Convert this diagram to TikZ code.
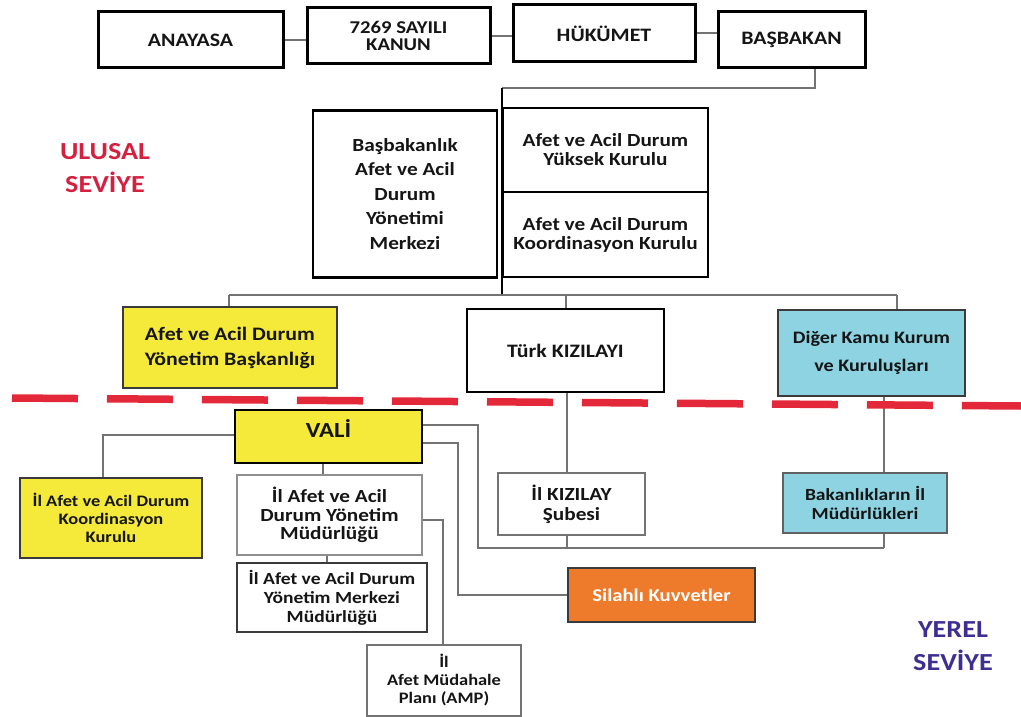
\documentclass[tikz,border=0pt]{standalone}
\usepackage{fontspec}
\setmainfont{Carlito}[FakeStretch=1.15]
\usetikzlibrary{calc}
\definecolor{ylw}{HTML}{F5EA3A}
\definecolor{lblue}{HTML}{8DD3E2}
\definecolor{orng}{HTML}{EE7A2B}
\definecolor{dred}{HTML}{E3283A}
\definecolor{ulus}{HTML}{D4213F}
\definecolor{yerel}{HTML}{3D2F92}
\definecolor{lgrey}{HTML}{737373}
\definecolor{dgrey}{HTML}{3A3A3A}
\definecolor{txt}{HTML}{151515}
\begin{document}
\begin{tikzpicture}[x=1pt,y=-1pt,
  box/.style={draw, rectangle, inner sep=0pt, align=center, text=txt},
  topbox/.style={box, line width=3pt, font=\bfseries\fontsize{19}{19}\selectfont},
  midbox/.style={box, line width=2.2pt, font=\bfseries\fontsize{18.5}{19}\selectfont},
  lowbox/.style={box, font=\bfseries\fontsize{16}{18}\selectfont},
  conn/.style={draw=lgrey, line width=2pt},
  mainline/.style={draw=black, line width=2pt},
  level/.style={font=\bfseries\fontsize{24.5}{33}\selectfont, align=center}]
\useasboundingbox (0,0) rectangle (1021,717);
\fill[white] (0,0) rectangle (1021,717);

% top row
\node[topbox, minimum width=185pt, minimum height=56pt] (ana) at (190.5,40) {ANAYASA};
\node[topbox, minimum width=183pt, minimum height=56pt, font=\bfseries\fontsize{18}{17}\selectfont] (kanun) at (398.5,36) {7269 SAYILI\\KANUN};
\node[topbox, minimum width=182pt, minimum height=57pt] (huk) at (604,33.5) {HÜKÜMET};
\node[topbox, minimum width=147pt, minimum height=56pt] (bas) at (791.5,40) {BAŞBAKAN};

% national centre
\node[midbox, minimum width=184pt, minimum height=167pt, font=\bfseries\fontsize{18.5}{24.5}\selectfont] (bbk) at (405,194) {Başbakanlık\\Afet ve Acil\\Durum\\Yönetimi\\Merkezi};
\node[midbox, minimum width=205pt, minimum height=84pt] (yuk) at (605.5,150) {Afet ve Acil Durum\\Yüksek Kurulu};
\node[midbox, minimum width=205pt, minimum height=85pt] (koor) at (605.5,234.5) {Afet ve Acil Durum\\Koordinasyon Kurulu};

% national institutions
\node[midbox, fill=ylw, draw=dgrey, line width=2.5pt, minimum width=214pt, minimum height=81pt, font=\bfseries\fontsize{19}{25}\selectfont] (ayb) at (230,347.5) {Afet ve Acil Durum\\Yönetim Başkanlığı};
\node[midbox, line width=2.5pt, minimum width=197pt, minimum height=83pt, font=\bfseries\fontsize{19}{20}\selectfont] (tk) at (565.5,350.5) {Türk KIZILAYI};
\node[midbox, fill=lblue, draw=dgrey, line width=2.5pt, minimum width=187pt, minimum height=86pt, font=\bfseries\fontsize{17.5}{28}\selectfont] (dkk) at (871.5,353) {Diğer Kamu Kurum\\ve Kuruluşları};

% local
\node[midbox, fill=ylw, line width=2.5pt, minimum width=187pt, minimum height=53pt, text height=14pt, text depth=12pt, font=\bfseries\fontsize{21.5}{22}\selectfont] (vali) at (328.5,436.5) {VALİ};
\node[lowbox, fill=ylw, draw=dgrey, line width=1.8pt, minimum width=182pt, minimum height=80pt] (ikoor) at (111,518) {İl Afet ve Acil Durum\\Koordinasyon\\Kurulu};
\node[lowbox, draw=lgrey!80, line width=1.5pt, minimum width=185pt, minimum height=80pt, font=\bfseries\fontsize{18.5}{18.5}\selectfont] (iym) at (329.5,515) {İl Afet ve Acil\\Durum Yönetim\\Müdürlüğü};
\node[lowbox, draw=dgrey, line width=2pt, minimum width=190pt, minimum height=69pt, font=\bfseries\fontsize{17}{19}\selectfont] (iymm) at (332,597.5) {İl Afet ve Acil Durum\\Yönetim Merkezi\\Müdürlüğü};
\node[lowbox, draw=lgrey, line width=1.5pt, minimum width=154pt, minimum height=71pt, font=\bfseries\fontsize{16}{18}\selectfont] (amp) at (444,680.5) {İl\\Afet Müdahale\\Planı (AMP)};
\node[lowbox, draw=lgrey, line width=1.5pt, minimum width=147pt, minimum height=62pt, font=\bfseries\fontsize{18.5}{20}\selectfont] (iks) at (571.5,504) {İl KIZILAY\\Şubesi};
\node[lowbox, fill=lblue, draw=dgrey!80, line width=2pt, minimum width=164pt, minimum height=60pt, font=\bfseries\fontsize{17}{19}\selectfont] (bim) at (865,503) {Bakanlıkların İl\\Müdürlükleri};
\node[lowbox, fill=orng, draw=dgrey, line width=2.5pt, minimum width=187pt, minimum height=54pt, text=white, font=\bfseries\fontsize{18}{18}\selectfont] (sk) at (661.5,595) {Silahlı Kuvvetler};

% level labels
\node[level, text=ulus] (ulusal) at (105,168) {ULUSAL\\SEVİYE};
\node[level, text=yerel] (yerelsev) at (953,646) {YEREL\\SEVİYE};

% connectors top row
\draw[conn] (ana.east) -- (ana.east -| kanun.west);
\draw[conn] (kanun.east) -- (kanun.east -| huk.west);
\draw[conn] (huk.east) -- (huk.east -| bas.west);

% Basbakan down to bus
\coordinate (j1) at (815,88);
\coordinate (j2) at (502,88);
\coordinate (bus) at (502,295);
\coordinate (busL) at (229,295);
\coordinate (busR) at (897,295);
\draw[conn] (bas.south -| j1) -- (j1) -- (j2);
\draw[mainline] (j2) -- (bus);
\draw[conn] (busL) -- (busR);
\draw[conn] (busL) -- (busL |- ayb.north);
\draw[conn] (tk.north |- bus) -- (tk.north);
\draw[conn] (busR) -- (busR |- dkk.north);

% vertical links to local level
\coordinate (kx) at (567,548);
\coordinate (bx) at (884,548);
\draw[conn] (tk.south -| kx) -- (iks.north -| kx);
\draw[conn] (iks.south -| kx) -- (kx);
\draw[conn] (dkk.south -| bx) -- (bim.north -| bx);
\draw[conn] (bim.south -| bx) -- (bx);

% from VALI
\coordinate (v1) at (478,425);
\coordinate (v1b) at (478,548);
\draw[conn] (vali.east |- v1) -- (v1) -- (v1b) -- (bx);
\coordinate (v2) at (458,443);
\draw[conn] (vali.east |- v2) -- (v2) -- (v2 |- sk.west) -- (sk.west);
\coordinate (v3) at (103,435);
\draw[conn] (vali.west |- v3) -- (v3) -- (v3 |- ikoor.north);
\coordinate (v4) at (323,0);
\draw[conn] (vali.south -| v4) -- (iym.north -| v4);
\coordinate (v5) at (327,0);
\draw[conn] (iym.south -| v5) -- (iymm.north -| v5);
\coordinate (v6) at (443,520);
\draw[conn] (iym.east |- v6) -- (v6) -- (v6 |- amp.north);

% red dashed boundary
\draw[dred, line width=7.5pt, dash pattern=on 66pt off 29pt] (12,398) -- (1021,406);
\end{tikzpicture}
\end{document}
